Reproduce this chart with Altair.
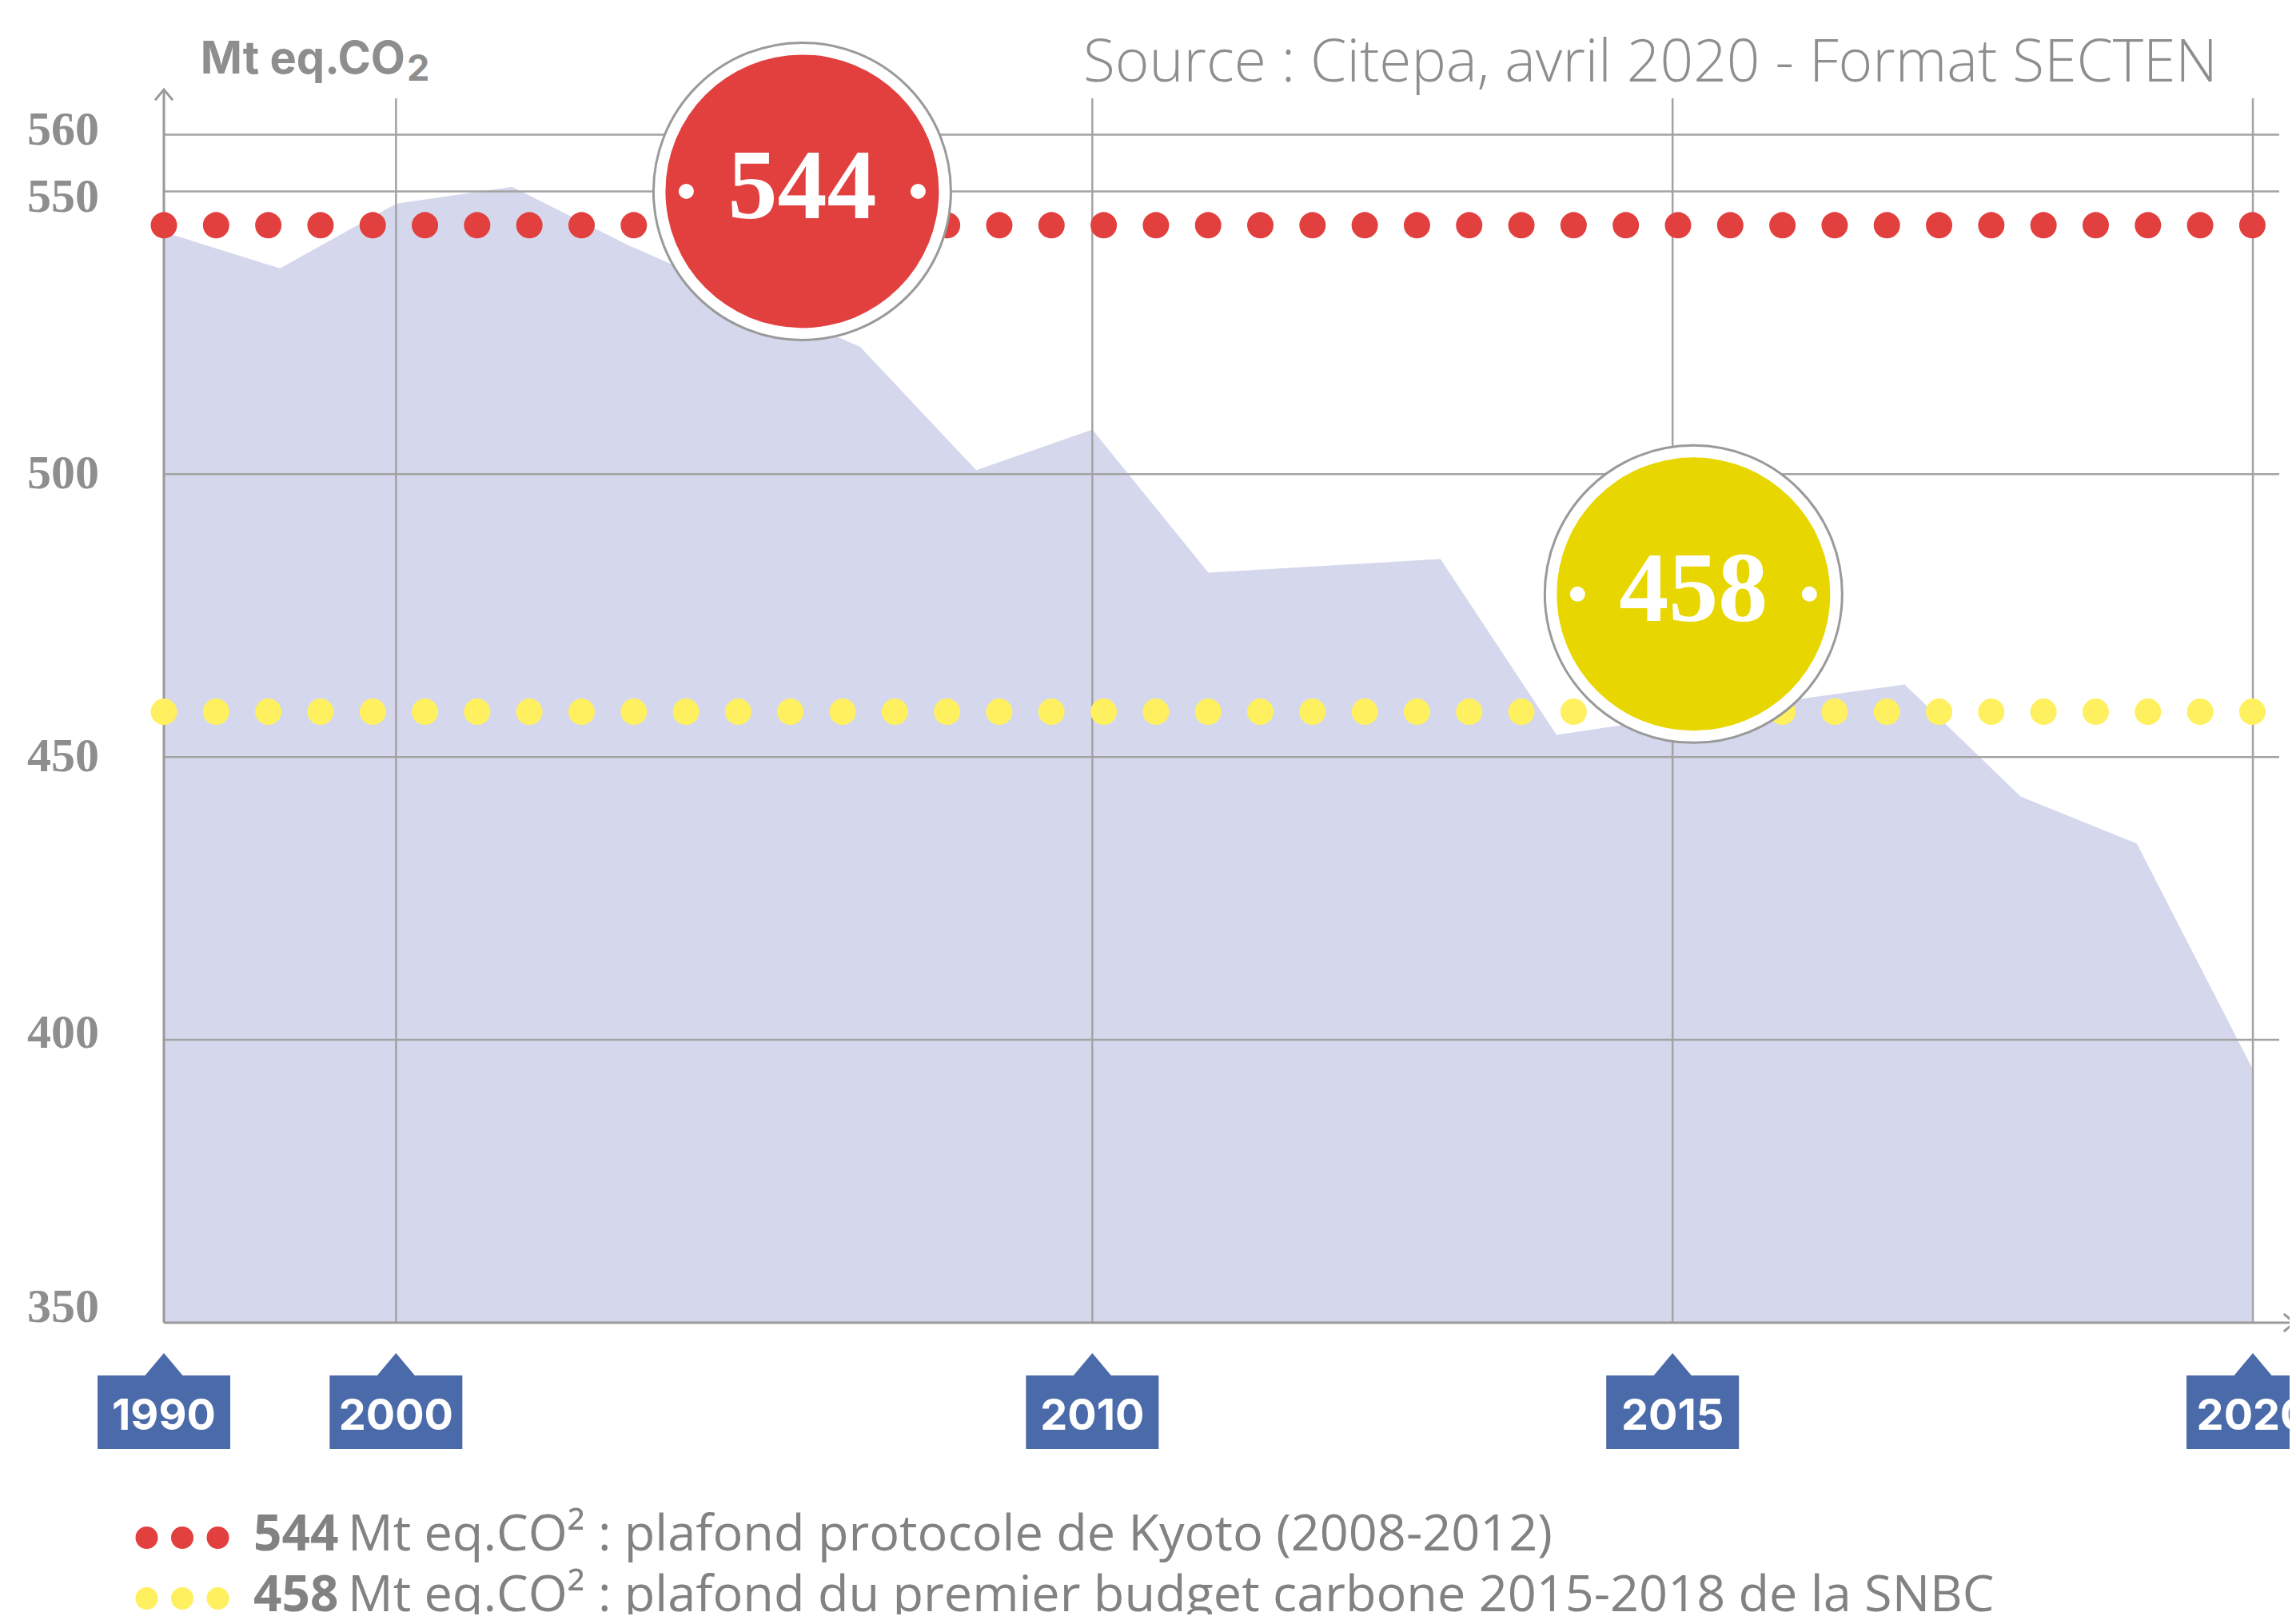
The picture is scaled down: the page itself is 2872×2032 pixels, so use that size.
import altair as alt
import pandas as pd

# ---------------- data ----------------
years = ["1990", "1995", "2000", "2005", "2006", "2007", "2008", "2009", "2010",
         "2011", "2012", "2013", "2014", "2015", "2016", "2017", "2018", "2019", "2020"]
emissions = [542.8, 536.4, 547.8, 550.8, 540.5, 531.5, 522.5, 500.7, 507.9,
             482.6, 483.8, 485.0, 453.9, 457.0, 460.0, 462.8, 443.0, 434.7, 394.8]
tick_years = ["1990", "2000", "2010", "2015", "2020"]
grid_years = ["2000", "2010", "2015", "2020"]
y_ticks = [350, 400, 450, 500, 550, 560]
y_grid = [400, 450, 500, 550, 560]
kyoto_cap = 544
snbc_cap = 458
unit_text = "Mt eq.CO"
unit_sub = "2"
source_text = "Source : Citepa, avril 2020 - Format SECTEN"
legend_values = ["544", "458"]
legend_texts = ["Mt eq.CO² : plafond protocole de Kyoto (2008-2012)",
                "Mt eq.CO² : plafond du premier budget carbone 2015-2018 de la SNBC"]

# ---------------- layout / style ----------------
W, H = 2646, 1543
xs = alt.Scale(domain=[0, 18.227], nice=False, zero=False)
ys = alt.Scale(domain=[350, 568], nice=False, zero=False)

GRID = "#a3a3a3"
AXIS = "#9a9a9a"
RED = "#e23f3f"
YEL_DOT = "#fff060"
YEL = "#e8d600"
BLUE = "#4a6aa9"
TXT = "#8e8e8e"
LEG = "#828282"
label_nudge = {350: -19, 400: -8, 550: 8, 560: -6}

df = pd.DataFrame({"i": list(range(len(years))), "year": years, "v": emissions})
one = pd.DataFrame({"a": [0]})

area = alt.Chart(df).mark_area(color="#d5d8ec", opacity=1).encode(
    x=alt.X("i:Q", scale=xs, axis=None),
    y=alt.Y("v:Q", scale=ys, axis=None),
    y2=alt.datum(350),
)

ylabels = []
for t in y_ticks:
    ylabels.append(alt.Chart(pd.DataFrame({"v": [t]})).mark_text(
        font="Liberation Serif", fontWeight="bold", fontSize=60, color=TXT,
        align="right", baseline="middle", dy=label_nudge.get(t, 0)).encode(
        y=alt.Y("v:Q", scale=ys, axis=None), x=alt.value(-81), text="v:Q"))

hgrid = alt.Chart(pd.DataFrame({"v": y_grid})).mark_rule(color=GRID, strokeWidth=2.5).encode(
    y=alt.Y("v:Q", scale=ys, axis=None), x=alt.value(0), x2=alt.value(W))

vgrid = alt.Chart(pd.DataFrame({"i": [years.index(g) for g in grid_years]})).mark_rule(
    color=GRID, strokeWidth=2.5).encode(
    x=alt.X("i:Q", scale=xs, axis=None), y=alt.value(11), y2=alt.value(H))

yline = alt.Chart(one).mark_rule(color=AXIS, strokeWidth=3).encode(
    x=alt.value(0), y=alt.value(0), y2=alt.value(H))
xline = alt.Chart(one).mark_rule(color=AXIS, strokeWidth=3).encode(
    x=alt.value(0), x2=alt.value(W + 19), y=alt.value(H))
up_arrow = alt.Chart(one).mark_point(shape="M-1,1.2L0,0L1,1.2", size=484, filled=False,
                                     color=AXIS, strokeWidth=3, opacity=1).encode(
    x=alt.value(0), y=alt.value(0))
right_arrow = alt.Chart(one).mark_point(shape="M-1.2,-1L0,0L-1.2,1", size=484, filled=False,
                                        color=AXIS, strokeWidth=3, opacity=1).encode(
    x=alt.value(W + 19), y=alt.value(H))


def dotted(val, color):
    return alt.Chart(one).mark_rule(color=color, strokeWidth=33, strokeCap="round",
                                    strokeDash=[0.01, 65.3]).encode(
        x=alt.XDatum(0, scale=xs, axis=None), x2=alt.X2Datum(len(years) - 1),
        y=alt.YDatum(val, scale=ys, axis=None))


def badge(ix, iy, color, label):
    enc = dict(x=alt.XDatum(ix, scale=xs, axis=None), y=alt.YDatum(iy, scale=ys, axis=None))
    b = alt.Chart(one)
    outer = b.mark_circle(size=372 ** 2, fill="white", stroke=AXIS, strokeWidth=3,
                          opacity=1).encode(**enc)
    inner = b.mark_circle(size=342 ** 2, color=color, opacity=1).encode(**enc)
    txt = b.mark_text(text=label, font="Liberation Serif", fontWeight="bold", fontSize=124,
                      color="white", baseline="alphabetic", dy=34).encode(**enc)
    dl = b.mark_circle(size=19 ** 2, color="white", opacity=1, xOffset=-145).encode(**enc)
    dr = b.mark_circle(size=19 ** 2, color="white", opacity=1, xOffset=145).encode(**enc)
    return [outer, inner, txt, dl, dr]


tick_df = pd.DataFrame({"i": [years.index(t) for t in tick_years], "label": tick_years})
box_path = "M0,0.458L0.283,0.795L1,0.795L1,1.904L-1,1.904L-1,0.795L-0.283,0.795Z"
boxes = alt.Chart(tick_df).mark_point(shape=box_path, size=166 ** 2, filled=True,
                                      color=BLUE, opacity=1).encode(
    x=alt.X("i:Q", scale=xs, axis=None), y=alt.value(H))
box_text = alt.Chart(tick_df).mark_text(font="Inter", fontWeight="bold", fontSize=54,
                                        color="white", baseline="alphabetic").encode(
    x=alt.X("i:Q", scale=xs, axis=None), y=alt.value(H + 134), text="label:N")

unit = alt.Chart(one).mark_text(text=unit_text, font="Inter", fontWeight="bold", fontSize=56,
                                color=TXT, align="right", baseline="alphabetic").encode(
    x=alt.value(302), y=alt.value(-20))
unit2 = alt.Chart(one).mark_text(text=unit_sub, font="Inter", fontWeight="bold", fontSize=45,
                                 color=TXT, align="left", baseline="alphabetic").encode(
    x=alt.value(304), y=alt.value(-11))
source = alt.Chart(one).mark_text(text=source_text, font="Open Sans", fontWeight=300,
                                  fontSize=73, color=TXT, align="right",
                                  baseline="alphabetic").encode(
    x=alt.value(2569), y=alt.value(-10))

legend_layers = []
for k, (val, txt, col) in enumerate(zip(legend_values, legend_texts, [RED, YEL_DOT])):
    yc = 1812 + 76 * k
    yb = 1828 + 76 * k
    legend_layers.append(alt.Chart(one).mark_rule(color=col, strokeWidth=28, strokeCap="round",
                                                  strokeDash=[0.01, 44.5]).encode(
        x=alt.value(-21.5), x2=alt.value(68), y=alt.value(yc)))
    legend_layers.append(alt.Chart(one).mark_text(text=val, font="Open Sans", fontWeight="bold",
                                                  fontSize=62, color=LEG, align="left",
                                                  baseline="alphabetic").encode(
        x=alt.value(112), y=alt.value(yb)))
    legend_layers.append(alt.Chart(one).mark_text(text=txt, font="Open Sans", fontSize=63,
                                                  color=LEG, align="left",
                                                  baseline="alphabetic").encode(
        x=alt.value(230), y=alt.value(yb)))

layers = [area, hgrid, vgrid, yline, xline, up_arrow, right_arrow,
          dotted(kyoto_cap, RED), dotted(snbc_cap, YEL_DOT)]
layers += badge(5.5, 550, RED, legend_values[0])
layers += badge(13.18, 478.8, YEL, legend_values[1])
layers += ylabels
layers += [boxes, box_text, unit, unit2, source] + legend_layers

chart = alt.layer(*layers).properties(
    width=W, height=H,
    autosize=alt.AutoSizeParams(type="none"),
    padding={"left": 197, "top": 104, "right": 13, "bottom": 365},
).configure_view(strokeWidth=0)

chart.save("out.html", embed_options={"renderer": "svg", "actions": False})
